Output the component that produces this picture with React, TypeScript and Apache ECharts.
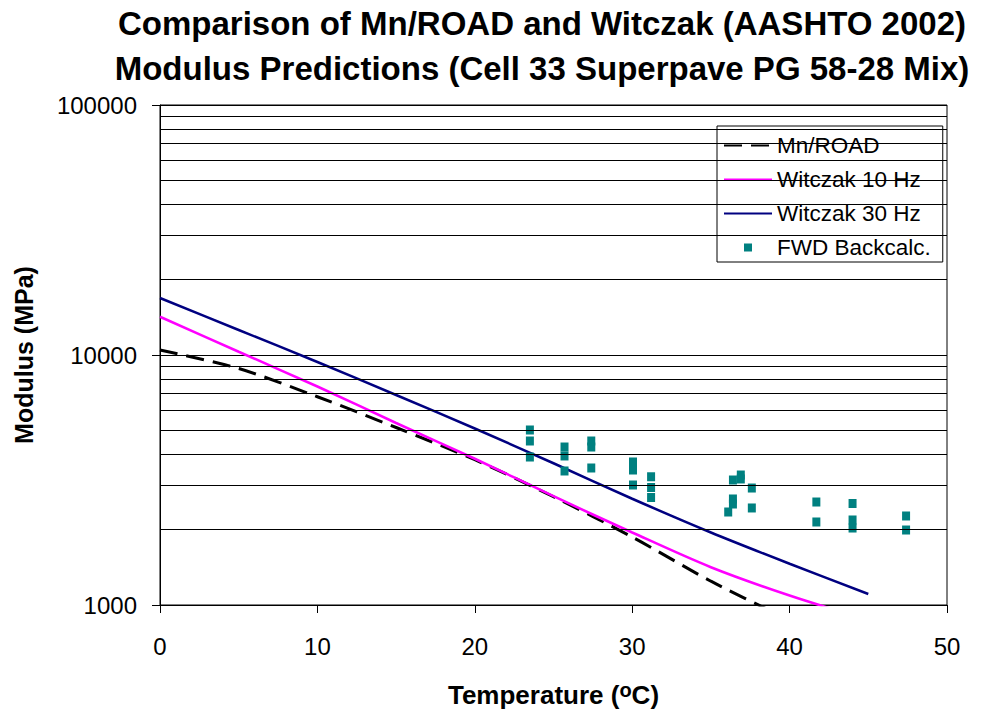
import React, { useEffect, useRef } from "react";
import * as echarts from "echarts";

const TITLE_LINES = [
  "Comparison of Mn/ROAD and Witczak (AASHTO 2002)",
  "Modulus Predictions (Cell 33 Superpave PG 58-28 Mix)",
];
const LEGEND_NAMES = ["Mn/ROAD", "Witczak 10 Hz", "Witczak 30 Hz", "FWD Backcalc."];

const LINE_TEMPS = [0, 5, 10, 15, 20, 25, 30, 35, 40, 45];
const MNROAD = [10471, 8831, 6808, 5129, 3811, 2710, 1871, 1245, 871, null];
const WITCZAK_10HZ = [14223, 10304, 7482, 5346, 3846, 2723, 1950, 1416, 1091, 871];
const WITCZAK_30HZ = [16904, 12589, 9376, 6918, 5082, 3690, 2661, 1950, 1462, 1107];

const FWD_TEMP = [
  23.5, 23.5, 23.5,
  25.7, 25.7, 25.7,
  27.4, 27.4, 27.4,
  30.05, 30.05, 30.05,
  31.2, 31.2, 31.2,
  36.1,
  36.4, 36.4, 36.4,
  36.9, 36.9,
  37.6, 37.6,
  41.7, 41.7,
  44.0, 44.0, 44.0,
  47.4, 47.4,
];
const FWD_MODULUS = [
  5012, 4529, 3908,
  4285, 3945, 3436,
  4529, 4285, 3532,
  3733, 3467, 3020,
  3258, 2951, 2692,
  2355,
  2655, 2535, 3162,
  3311, 3192,
  2937, 2444,
  2582, 2148,
  2547, 2188, 2032,
  2270, 1995,
];

const MINOR_GRID = [
  2000, 3000, 4000, 5000, 6000, 7000, 8000, 9000,
  20000, 30000, 40000, 50000, 60000, 70000, 80000, 90000,
];

const FONT = '"Liberation Sans", Arial, Helvetica, sans-serif';
const SQUARE_ICON =
  "path://M0,0 L0.01,0 L0.01,0.01 Z M48,8 L47.99,8 L47.99,7.99 Z M20,0 L28,0 L28,8 L20,8 Z";

export default function App() {
  const ref = useRef<HTMLDivElement>(null);

  useEffect(() => {
    if (!ref.current) return;
    const chart = echarts.init(ref.current, undefined, { renderer: "svg" });

    const pair = (ys: (number | null)[]) =>
      LINE_TEMPS.map((t, i) => [t, ys[i]]).filter((p) => p[1] !== null);

    chart.setOption({
      animation: false,
      backgroundColor: "#fff",
      textStyle: { fontFamily: FONT },
      graphic: TITLE_LINES.map((t, i) => ({
        type: "text",
        x: 542,
        y: 23 + i * 45,
        style: {
          text: t,
          fill: "#000",
          fontSize: 33,
          fontWeight: "bold",
          fontFamily: FONT,
          align: "center",
          verticalAlign: "middle",
        },
      })),
      grid: {
        left: 160,
        top: 105,
        right: 34,
        bottom: 106,
        outerBoundsMode: "none",
        containLabel: false,
        show: true,
        borderColor: "#000",
        borderWidth: 1,
        backgroundColor: "transparent",
      },
      legend: {
        data: [
          { name: LEGEND_NAMES[0], itemStyle: { opacity: 0 } },
          { name: LEGEND_NAMES[1], itemStyle: { opacity: 0 } },
          { name: LEGEND_NAMES[2], itemStyle: { opacity: 0 } },
          { name: LEGEND_NAMES[3], icon: SQUARE_ICON },
        ],
        orient: "vertical",
        left: 717,
        top: 126,
        itemWidth: 48,
        itemHeight: 8,
        itemGap: 11,
        padding: [8, 12, 3, 6],
        backgroundColor: "#fff",
        borderColor: "#000",
        borderWidth: 1,
        borderRadius: 0,
        textStyle: { fontSize: 22.5, lineHeight: 23, color: "#000", fontFamily: FONT },
      },
      xAxis: {
        type: "value",
        min: 0,
        max: 50,
        interval: 10,
        name: "Temperature ({sup|o}C)",
        nameLocation: "middle",
        nameGap: 75,
        nameTextStyle: {
          fontSize: 26,
          fontWeight: "bold",
          color: "#000",
          fontFamily: FONT,
          lineHeight: 30,
          rich: {
            sup: {
              fontSize: 20,
              fontWeight: "bold",
              color: "#000",
              fontFamily: FONT,
              verticalAlign: "top",
              lineHeight: 6,
            },
          },
        },
        axisLine: { show: true, lineStyle: { color: "#000", width: 1 } },
        axisTick: { show: true, length: 8, lineStyle: { color: "#000" } },
        axisLabel: { fontSize: 24, color: "#000", margin: 29, fontFamily: FONT },
        splitLine: { show: false },
      },
      yAxis: {
        type: "log",
        logBase: 10,
        min: 1000,
        max: 100000,
        name: "Modulus (MPa)",
        nameLocation: "middle",
        nameRotate: 90,
        nameGap: 124,
        nameTextStyle: { fontSize: 25, fontWeight: "bold", color: "#000", fontFamily: FONT },
        axisLine: { show: true, lineStyle: { color: "#000", width: 1 } },
        axisTick: { show: true, length: 8, lineStyle: { color: "#000" } },
        axisLabel: {
          fontSize: 24,
          color: "#000",
          margin: 23,
          fontFamily: FONT,
          formatter: (v: number) => String(Math.round(v)),
        },
        splitLine: { show: true, lineStyle: { color: "#000", width: 1 } },
        minorTick: { show: false },
        minorSplitLine: { show: false },
      },
      series: [
        {
          type: "line",
          z: 1,
          data: [],
          silent: true,
          markLine: {
            silent: true,
            symbol: ["none", "none"],
            label: { show: false },
            lineStyle: { color: "#000", width: 1, type: "solid" },
            emphasis: { disabled: true },
            data: MINOR_GRID.map((v) => ({ yAxis: v })),
          },
        },
        {
          name: "Mn/ROAD",
          type: "line",
          z: 3,
          symbol: "none",
          smooth: 0.3,
          data: pair(MNROAD),
          lineStyle: { color: "#000", width: 3, type: [18, 9] },
          itemStyle: { color: "#000" },
        },
        {
          name: "Witczak 10 Hz",
          type: "line",
          z: 3,
          symbol: "none",
          smooth: 0.3,
          data: pair(WITCZAK_10HZ),
          lineStyle: { color: "#FF00FF", width: 2.5 },
          itemStyle: { color: "#FF00FF" },
        },
        {
          name: "Witczak 30 Hz",
          type: "line",
          z: 3,
          symbol: "none",
          smooth: 0.3,
          data: pair(WITCZAK_30HZ),
          lineStyle: { color: "#000080", width: 2.5 },
          itemStyle: { color: "#000080" },
        },
        {
          name: "FWD Backcalc.",
          type: "scatter",
          z: 4,
          symbol: "rect",
          symbolSize: [8, 9],
          data: FWD_TEMP.map((t, i) => [t, FWD_MODULUS[i]]),
          itemStyle: { color: "#008080", opacity: 1 },
        },
      ],
    });

    return () => chart.dispose();
  }, []);

  return (
    <div
      ref={ref}
      style={{ position: "fixed", left: 0, top: 0, width: 981, height: 711 }}
    />
  );
}
